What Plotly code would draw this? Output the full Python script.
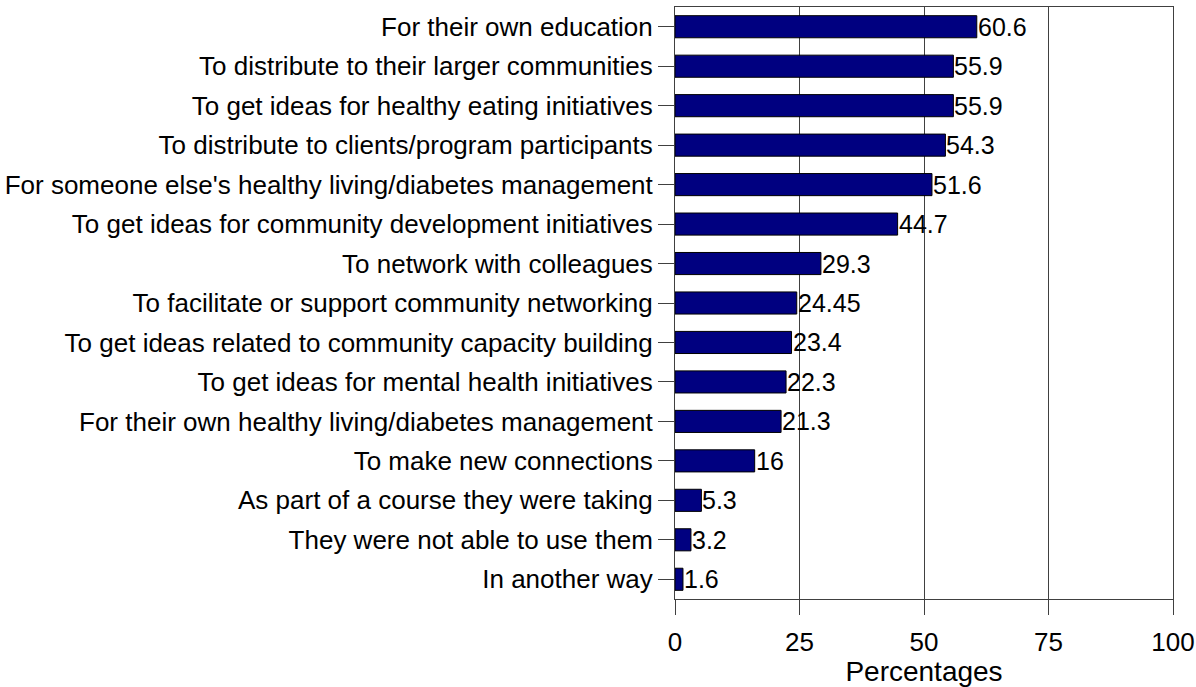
import plotly.graph_objects as go

# Ways respondents used the materials, percentages
categories = [
    "For their own education",
    "To distribute to their larger communities",
    "To get ideas for healthy eating initiatives",
    "To distribute to clients/program participants",
    "For someone else's healthy living/diabetes management",
    "To get ideas for community development initiatives",
    "To network with colleagues",
    "To facilitate or support community networking",
    "To get ideas related to community capacity building",
    "To get ideas for mental health initiatives",
    "For their own healthy living/diabetes management",
    "To make new connections",
    "As part of a course they were taking",
    "They were not able to use them",
    "In another way",
]
values = [60.6, 55.9, 55.9, 54.3, 51.6, 44.7, 29.3, 24.45, 23.4, 22.3, 21.3, 16, 5.3, 3.2, 1.6]
x_ticks = [0, 25, 50, 75, 100]

FONT = "Liberation Sans, Arial, sans-serif"

fig = go.Figure(
    go.Bar(
        x=values,
        y=categories,
        orientation="h",
        marker=dict(color="#000080", line=dict(color="#000000", width=1)),
        width=0.56,
        hoverinfo="x+y",
    )
)

# value labels sit flush against the end of each bar
for cat, v in zip(categories, values):
    fig.add_annotation(
        x=v, y=cat, xref="x", yref="y",
        text=f"{v:g}", showarrow=False,
        xanchor="left", yanchor="middle", xshift=-1,
        font=dict(family=FONT, size=25, color="#000000"),
    )

fig.update_layout(
    width=1196,
    height=687,
    margin=dict(l=675, r=23, t=7, b=88),
    paper_bgcolor="white",
    plot_bgcolor="white",
    showlegend=False,
    font=dict(family=FONT, size=25, color="#000000"),
)

fig.update_xaxes(
    range=[0, 100],
    tickvals=x_ticks,
    ticktext=[str(t) for t in x_ticks],
    ticks="outside",
    ticklen=15,
    tickcolor="#404040",
    showgrid=True,
    gridcolor="#404040",
    gridwidth=1,
    showline=True,
    linecolor="#404040",
    linewidth=1,
    mirror=True,
    zeroline=False,
    automargin=False,
    ticklabelstandoff=5,
    tickfont=dict(family=FONT, size=26, color="#000000"),
    title=dict(text="Percentages", font=dict(family=FONT, size=28, color="#000000"), standoff=4),
)

fig.update_yaxes(
    categoryorder="array",
    categoryarray=categories,
    autorange="reversed",
    ticks="outside",
    ticklen=16,
    tickcolor="#404040",
    showline=True,
    linecolor="#404040",
    linewidth=1,
    mirror=True,
    showgrid=False,
    automargin=False,
    tickfont=dict(family=FONT, size=26, color="#000000"),
)

fig.write_html("out.html")
